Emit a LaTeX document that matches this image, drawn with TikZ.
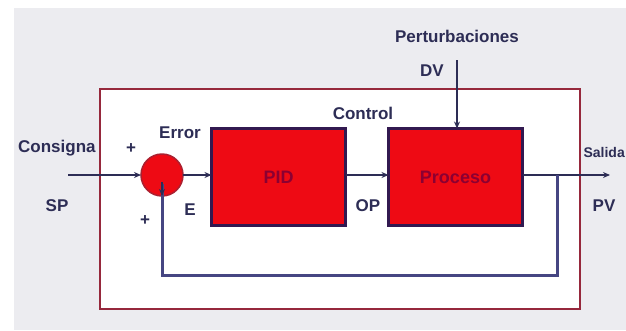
\documentclass[tikz,border=0pt]{standalone}
\usepackage{fontspec}
\setmainfont{Liberation Sans}
\usetikzlibrary{arrows.meta}
\definecolor{bggray}{RGB}{236,236,240}
\definecolor{frame}{RGB}{150,40,60}
\definecolor{boxedge}{RGB}{50,25,80}
\definecolor{boxred}{RGB}{238,10,20}
\definecolor{inred}{RGB}{140,0,50}
\definecolor{ink}{RGB}{45,45,85}
\definecolor{fbblue}{RGB}{70,70,130}
\begin{document}
\begin{tikzpicture}[x=1pt,y=-1pt,
  lbl/.style={font=\fontsize{17}{19}\selectfont\bfseries, text=ink, inner sep=0pt},
  blk/.style={draw=boxedge, line width=3pt, fill=boxred, minimum width=134pt, minimum height=97pt, inner sep=0pt, outer sep=0pt, font=\fontsize{18}{20}\selectfont\bfseries, text=inred},
  sumc/.style={circle, draw=frame!80!red, line width=1.5pt, fill=boxred, minimum size=42pt, inner sep=0pt, outer sep=0pt},
  sig/.style={draw=ink, line width=1.3pt, -{Stealth[length=7pt,width=6pt]}},
  fb/.style={draw=fbblue, line width=3pt}]
\clip (0,0) rectangle (626,330);
\fill[white] (0,0) rectangle (626,330);
\fill[bggray] (14,8) rectangle (626,330);
% label partially under frame
\node[lbl, anchor=west] (cons) at (18,148) {Consigna};
% outer frame
\draw[frame, line width=2.5pt, fill=white] (100,89) rectangle (580,309);
% blocks
\node[sumc] (sum) at (162,175) {};
\node[blk] (pid) at (278.5,177) {PID};
\node[blk] (proc) at (455.5,177) {Proceso};
% coordinates
\coordinate (in) at (68,175);
\coordinate (tap) at (557,175);
\coordinate (fbl) at (557,275);
\coordinate (out) at (610,175);
\coordinate (dvtop) at (457,60);
% connectors
\draw[sig] (in) -- (sum.west);
\draw[sig] (sum.east) -- (pid.west |- sum.east);
\draw[sig] (pid.east |- sum.east) -- (proc.west |- sum.east);
\draw[sig] (proc.east |- sum.east) -- (out);
\draw[sig] (dvtop) -- (dvtop |- proc.north);
\draw[fb] (tap) -- (fbl) -| ([yshift=12pt]sum.south);
\draw[sig] ([yshift=14pt]sum.south) -- (sum.south);
% labels
\node[lbl] (pert) at (457,36) {Perturbaciones};
\node[lbl] (dv) at (432,71) {DV};
\node[lbl] (ctrl) at (363,113) {Control};
\node[lbl] (op) at (368,206) {OP};
\node[lbl, anchor=east, font=\fontsize{14}{16}\selectfont\bfseries] (sal) at (625,152) {Salida};
\node[lbl] (pv) at (604,206) {PV};
\node[lbl] (sp) at (57,206) {SP};
\node[lbl] (p1) at (131,149) {+};
\node[lbl] (err) at (180,133) {Error};
\node[lbl] (e) at (190,210) {E};
\node[lbl] (p2) at (145,221) {+};
\end{tikzpicture}
\end{document}
